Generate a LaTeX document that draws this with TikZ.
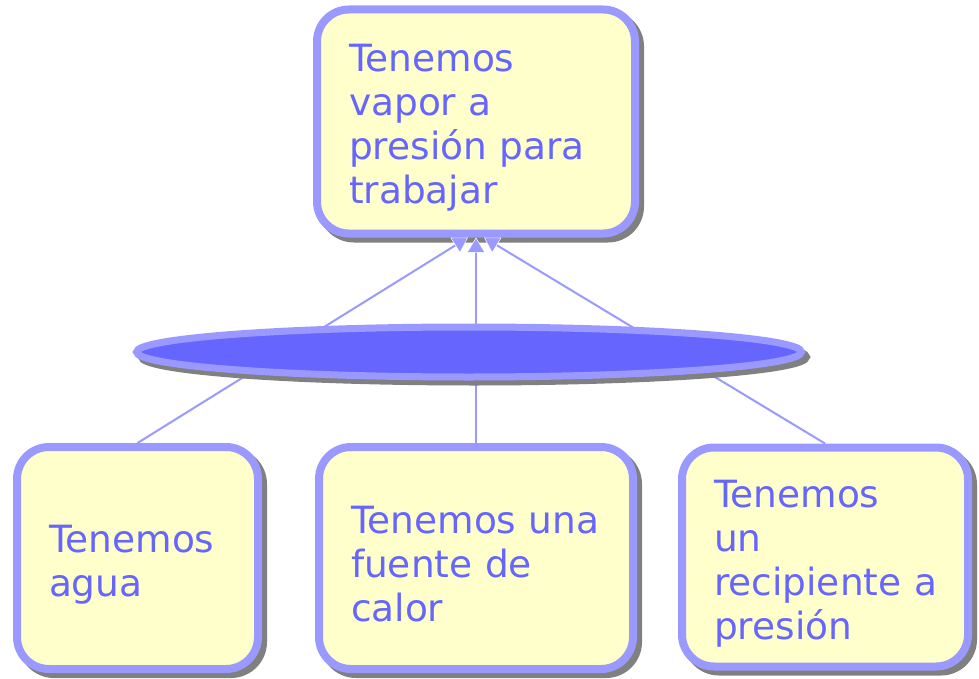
\documentclass[tikz,border=0pt]{standalone}
\usepackage{fontspec}
\setmainfont{DejaVu Sans}
\usetikzlibrary{arrows.meta,shapes.geometric}
\definecolor{bordc}{HTML}{9999FF}
\definecolor{fillc}{HTML}{FFFFCC}
\definecolor{txtc}{HTML}{6666FF}
\definecolor{ellc}{HTML}{6666FF}
\definecolor{shadc}{HTML}{808080}
\newcommand{\mystrut}{\rule{0pt}{40pt}}
\tikzset{
  shadowed/.style={preaction={draw=shadc, fill=shadc, transform canvas={xshift=5pt,yshift=-5pt}}},
  concept/.style={shadowed, rectangle, rounded corners=32pt, draw=bordc, line width=8pt,
    fill=fillc, text=txtc, font=\fontsize{37.5}{44}\selectfont, align=left,
    inner ysep=0pt, inner xsep=32pt},
  conn/.style={draw=bordc, line width=2pt,
    -{Triangle[width=18pt,length=15pt,fill=bordc,color=white,line width=0.5pt]}},
  linkshape/.style={shadowed, ellipse, draw=bordc, line width=7pt, fill=ellc,
    inner sep=0pt}
}
\begin{document}
\begin{tikzpicture}[x=1pt,y=-1pt]
\useasboundingbox (0,0) rectangle (979,679);
\node[concept, minimum width=318pt, minimum height=224pt, text width=254pt] (top) at (476,121.5)
  {\mystrut Tenemos\\vapor~a\\presión~para\\trabajar};
\node[concept, minimum width=241pt, minimum height=222pt, text width=177pt] (b1) at (137.5,558)
  {\mystrut Tenemos\\agua};
\node[concept, minimum width=314pt, minimum height=222pt, text width=250pt] (b2) at (476,558)
  {\mystrut Tenemos~una\\fuente~de\\calor};
\node[concept, minimum width=286pt, minimum height=219pt, text width=222pt] (b3) at (825,557)
  {\mystrut Tenemos\\un\\recipiente~a\\presión};
\draw[conn] (b1.north) -- ([xshift=-8pt]top.south);
\draw[conn] (b2.north) -- (top.south);
\draw[conn] (b3.north) -- ([xshift=8pt]top.south);
\node[linkshape, minimum width=665pt, minimum height=50pt] (link) at (469,352) {};
\end{tikzpicture}
\end{document}
